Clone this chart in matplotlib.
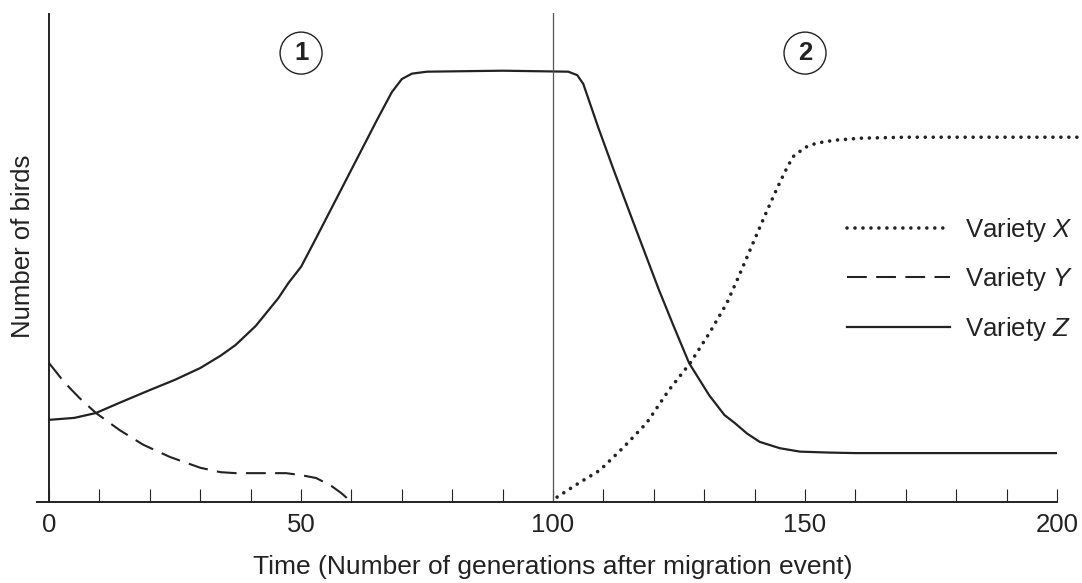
import matplotlib
matplotlib.use("Agg")
import matplotlib.pyplot as plt
from matplotlib.ticker import FixedLocator

plt.rcParams["font.family"] = ["Liberation Sans", "DejaVu Sans"]
plt.rcParams["mathtext.fontset"] = "custom"
plt.rcParams["mathtext.it"] = "Liberation Sans:italic"
plt.rcParams["mathtext.rm"] = "Liberation Sans"

# Variety Z (solid), y in arbitrary units (axis top = 100)
z_time = [0, 5, 9.3, 14, 20, 25, 30, 34, 37, 41, 45.5, 47.5, 50, 53, 56, 59, 62, 65, 68,
          70, 72, 75, 90, 103, 104.8, 106, 109, 112, 116, 121, 124, 127, 131, 134, 136,
          138.5, 141, 145, 149, 155, 160, 200]
z_count = [16.8, 17.2, 18.2, 20.3, 22.9, 25.0, 27.4, 29.9, 32.1, 36.0, 41.7, 44.8, 48.1,
           54.0, 60.0, 66.0, 72.0, 78.0, 83.8, 86.5, 87.6, 88.0, 88.2, 88.0, 87.3, 85.5,
           76.5, 68.0, 57.0, 43.4, 35.8, 28.4, 21.8, 17.8, 16.2, 14.0, 12.3, 11.0, 10.3,
           10.1, 10.0, 10.0]

# Variety X (dotted)
x_time = [100.8, 105, 109.3, 114, 118.6, 123, 127.2, 131, 134.5, 137, 139.7, 142, 144.3,
          146, 147.6, 150, 152.3, 156, 161, 170, 204]
x_count = [1.0, 3.8, 6.5, 11.2, 16.2, 22.9, 28.4, 34.5, 40.7, 46.5, 53.0, 58.5, 63.8,
           67.5, 70.6, 72.5, 73.4, 74.0, 74.4, 74.6, 74.6]

# Variety Y (dashed)
y_time = [0, 3, 6, 9.3, 14, 18.7, 24, 30, 34, 37, 42, 47, 50, 53, 56, 58, 60]
y_count = [28.4, 24.5, 21.3, 18.2, 14.7, 11.7, 9.2, 7.0, 6.1, 5.9, 5.9, 5.9, 5.5, 4.9,
           3.3, 1.8, 0.0]

tick_pos = list(range(0, 201, 10))
tick_text = [str(t) if t % 50 == 0 else "" for t in tick_pos]
phase_x = [50, 150]
phase_label = ["1", "2"]

W, H = 1082, 583
fig = plt.figure(figsize=(W / 100, H / 100), dpi=100)
ax = fig.add_axes([37 / W, 81 / H, 1020 / W, 489 / H])

ax.plot(x_time, x_count, color="#222222", lw=2.6, linestyle=(0, (0.01, 2.2)),
        dash_capstyle="round", clip_on=False, label="Variety $X$")
ax.plot(y_time, y_count, color="#222222", lw=1.5, linestyle=(0, (9.5, 4.5)),
        label="Variety $Y$")
ax.plot(z_time, z_count, color="#222222", lw=1.6, label="Variety $Z$")

ax.axvline(0, color="#222222", lw=1.4)
ax.axvline(100, color="#555555", lw=0.9)

ax.set_xlim(-2.4, 200)
ax.set_ylim(0, 100)
for s in ["left", "top", "right"]:
    ax.spines[s].set_visible(False)
ax.spines["bottom"].set_linewidth(1.4)
ax.spines["bottom"].set_color("#222222")

ax.xaxis.set_major_locator(FixedLocator(tick_pos))
ax.set_xticklabels(tick_text)
ax.tick_params(axis="x", direction="in", length=9.4, width=0.8, color="#222222",
               pad=8, labelsize=18.5, labelcolor="#222222")
ax.set_yticks([])

for px, lab in zip(phase_x, phase_label):
    ax.text(px, 91.8, lab, ha="center", va="center", fontsize=18.5, fontweight="bold",
            color="#222222",
            bbox=dict(boxstyle="circle,pad=0.35", fc="white", ec="#222222", lw=1.0))

ax.set_xlabel("Time (Number of generations after migration event)", fontsize=19,
              color="#222222", va="center")
ax.xaxis.set_label_coords(0.506, -0.133)
ax.set_ylabel("Number of birds", fontsize=18.5, color="#222222", va="center")
ax.yaxis.set_label_coords((23 - 37) / 1020, 0.5235)

ax.legend(loc="upper left", bbox_to_anchor=(847 / W, (H - 216) / H),
          bbox_transform=fig.transFigure, frameon=False, fontsize=18.5,
          handlelength=4.0, handletextpad=0.6, labelspacing=0.83, borderpad=0,
          borderaxespad=0, labelcolor="#222222")

fig.savefig("out.png", dpi=100)
